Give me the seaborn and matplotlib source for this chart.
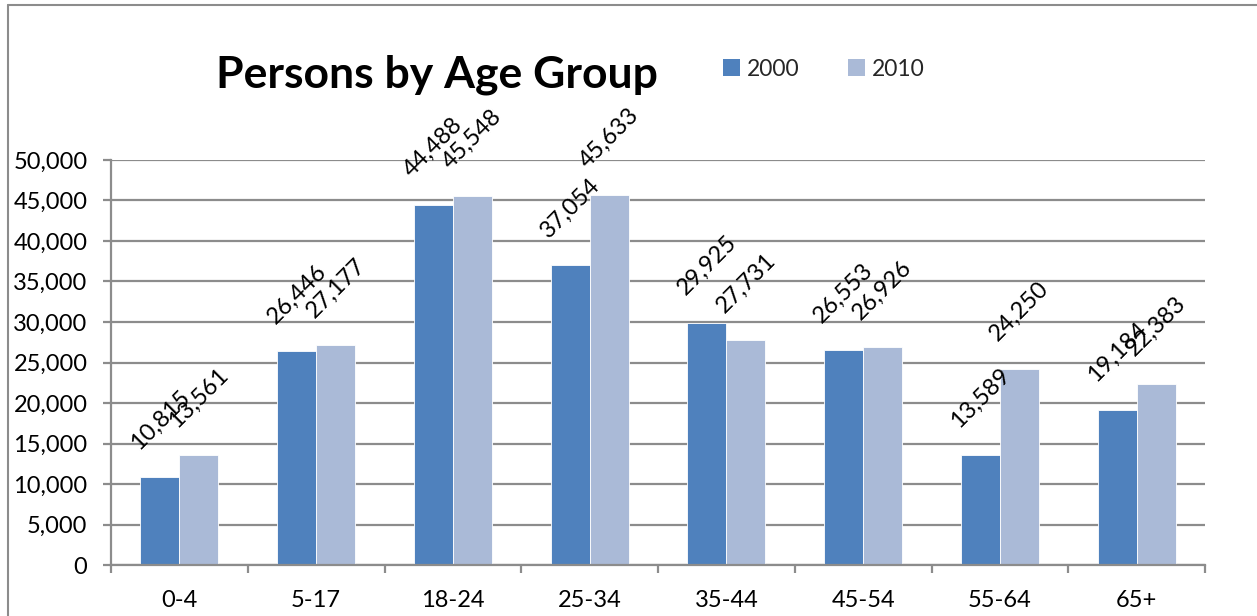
import matplotlib
matplotlib.use("Agg")
import matplotlib.pyplot as plt
import seaborn as sns
import pandas as pd
from matplotlib.lines import Line2D
from matplotlib.ticker import FuncFormatter, MultipleLocator, FixedLocator

categories = ["0-4", "5-17", "18-24", "25-34", "35-44", "45-54", "55-64", "65+"]
series_names = ["2000", "2010"]
values_2000 = [10815, 26446, 44488, 37054, 29925, 26553, 13589, 19184]
values_2010 = [13561, 27177, 45548, 45633, 27731, 26926, 24250, 22383]
colors = ["#4F81BD", "#AABAD7"]

df = pd.DataFrame({
    "age": categories * 2,
    "year": [series_names[0]] * len(categories) + [series_names[1]] * len(categories),
    "persons": values_2000 + values_2010,
})

sns.set_theme(style="white")
plt.rcParams["font.family"] = ["Lato", "DejaVu Sans"]

fig = plt.figure(figsize=(12.57, 6.16), dpi=100)
ax = fig.add_axes([111/1257, 1-565/616, (1205-111)/1257, (565-160)/616])

sns.barplot(data=df, x="age", y="persons", hue="year", order=categories,
            hue_order=series_names, palette=colors, width=0.57, gap=0,
            saturation=1, ax=ax, legend=False, linewidth=0.6, edgecolor="white")

grid_c = "#8C8C8C"
ax.set_ylim(0, 50000)
ax.set_xlim(-0.5, len(categories) - 0.5)
ax.yaxis.set_major_locator(MultipleLocator(5000))
ax.yaxis.set_major_formatter(FuncFormatter(lambda v, p: f"{int(v):,}"))
ax.grid(axis="y", color=grid_c, linewidth=1.6, zorder=0)
ax.set_axisbelow(True)
ax.set_xlabel("")
ax.set_ylabel("")
for s in ["top", "right"]:
    ax.spines[s].set_visible(False)
for s in ["left", "bottom"]:
    ax.spines[s].set_color(grid_c)
    ax.spines[s].set_linewidth(1.6)

ax.tick_params(axis="y", which="major", length=6, width=1.6, color=grid_c,
               labelsize=17, pad=11, left=True, labelcolor="black")
ax.tick_params(axis="x", which="major", length=0, labelsize=17, pad=18,
               labelcolor="black")
ax.xaxis.set_minor_locator(FixedLocator([i - 0.5 for i in range(len(categories) + 1)]))
ax.tick_params(axis="x", which="minor", length=6, width=1.6, color=grid_c, bottom=True)

for cont in ax.containers:
    ax.bar_label(cont, labels=[f"{int(v):,}" for v in cont.datavalues],
                 rotation=45, fontsize=17, padding=17, color="black")

fig.text(437/1257, 1-75/616, "Persons by Age Group", fontsize=32, fontweight="bold",
         ha="center", va="center", color="black")

handles = [plt.Rectangle((0, 0), 1, 1, facecolor=c, edgecolor="none") for c in colors]
fig.legend(handles, series_names, loc="center left", bbox_to_anchor=(714/1257, 1-69/616),
           ncol=2, frameon=False, fontsize=16.5, handlelength=0.75, handleheight=0.75,
           handletextpad=0.3, columnspacing=2.1, borderaxespad=0)

border_c = "#8C8C8C"
fig.add_artist(Line2D([8/1257, 8/1257], [0, 1-5/616], color=border_c, linewidth=1.5,
                      transform=fig.transFigure))
fig.add_artist(Line2D([8/1257, 1], [1-5/616, 1-5/616], color=border_c, linewidth=1.5,
                      transform=fig.transFigure))

fig.savefig("out.png", dpi=100)
